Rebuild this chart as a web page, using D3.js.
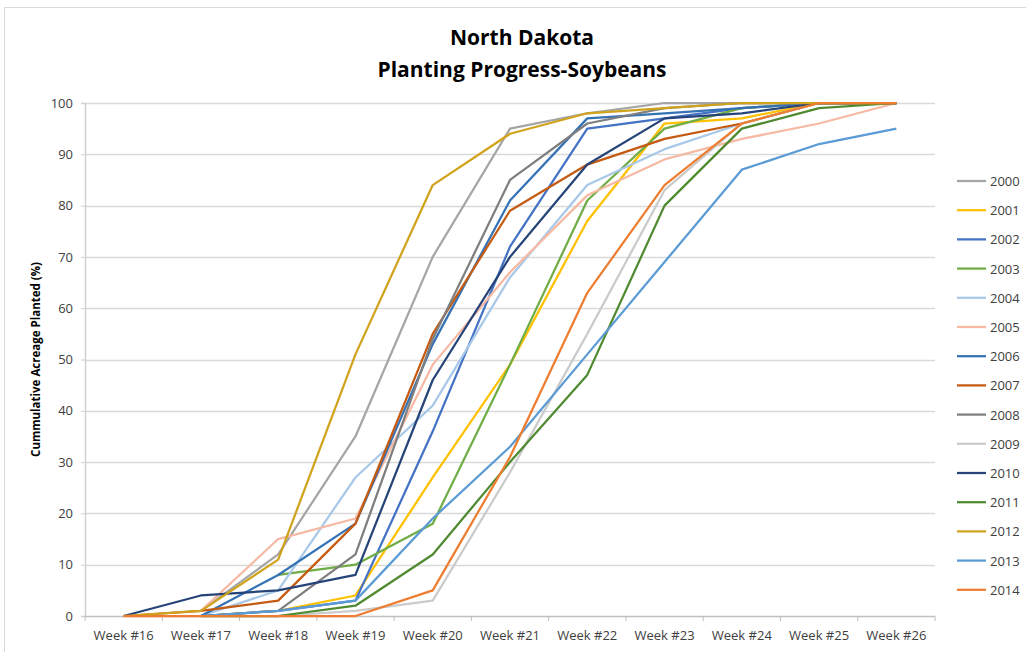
<!DOCTYPE html>
<html>
<head>
<meta charset="utf-8">
<script src="https://cdn.jsdelivr.net/npm/d3@7"></script>
<style>
  html, body { margin: 0; padding: 0; background: #fff; }
  svg { display: block; }
  text { font-family: "Open Sans", "Noto Sans", sans-serif; fill: #404040; }
</style>
</head>
<body>
<svg id="chart" width="1026" height="652"></svg>
<script>
// Weekly categories on the x axis
const weeks = ["Week #16", "Week #17", "Week #18", "Week #19", "Week #20", "Week #21",
               "Week #22", "Week #23", "Week #24", "Week #25", "Week #26"];

// Years shown in the legend
const years = ["2000", "2001", "2002", "2003", "2004", "2005", "2006", "2007",
               "2008", "2009", "2010", "2011", "2012", "2013", "2014"];

// Cumulative percent planted per week (null = not reported)
const y2000 = [null, 1, 12, 35, 70, 95, 98, 100, 100, 100, 100];
const y2001 = [null, 0, 1, 4, 27, 49, 77, 96, 97, 100, 100];
const y2002 = [null, 0, 1, 3, 36, 72, 95, 97, 99, 100, 100];
const y2003 = [null, null, 8, 10, 18, 49, 81, 95, 99, 100, 100];
const y2004 = [null, 0, 5, 27, 41, 66, 84, 91, 96, 100, 100];
const y2005 = [null, 1, 15, 19, 49, 67, 82, 89, 93, 96, 100];
const y2006 = [null, 0, 8, 18, 53, 81, 97, 98, 99, 100, 100];
const y2007 = [0, 1, 3, 18, 55, 79, 88, 93, 96, 100, 100];
const y2008 = [null, 0, 1, 12, 54, 85, 96, 99, 100, 100, 100];
const y2009 = [null, null, 0, 1, 3, 28, 55, 83, 96, 100, 100];
const y2010 = [0, 4, 5, 8, 46, 70, 88, 97, 98, 100, 100];
const y2011 = [null, 0, 0, 2, 12, 30, 47, 80, 95, 99, 100];
const y2012 = [0, 1, 11, 51, 84, 94, 98, 99, 100, 100, 100];
const y2013 = [null, 0, 1, 3, 19, 33, 51, 69, 87, 92, 95];
const y2014 = [0, 0, 0, 0, 5, 31, 63, 84, 96, 100, 100];

const seriesValues = [y2000, y2001, y2002, y2003, y2004, y2005, y2006, y2007,
                      y2008, y2009, y2010, y2011, y2012, y2013, y2014];

const yTicks = [0, 10, 20, 30, 40, 50, 60, 70, 80, 90, 100];

const colors = ["#a5a5a5", "#ffc000", "#4472c4", "#70ad47", "#a9c8e8", "#f6b9a4",
                "#3472b5", "#c55a11", "#7f7f7f", "#cbcbcb", "#264478", "#4f8a30",
                "#d0a31d", "#5b9bd5", "#ed7d31"];

const svg = d3.select("#chart");
const W = 1026, H = 652;

// Outer chart frame
svg.append("rect")
  .attr("x", 4.5).attr("y", 7.5)
  .attr("width", W + 10).attr("height", H + 10)
  .attr("fill", "none").attr("stroke", "#d9d9d9");

const plot = { left: 85, right: 935, top: 103, bottom: 616 };

const x = d3.scaleBand().domain(weeks).range([plot.left, plot.right]);
const y = d3.scaleLinear().domain([0, 100]).range([plot.bottom, plot.top]);

// Title
svg.append("text")
  .attr("x", 522).attr("y", 45)
  .attr("text-anchor", "middle")
  .style("font-size", "21px").style("font-weight", "bold")
  .style("fill", "#000")
  .text("North Dakota");
svg.append("text")
  .attr("x", 522).attr("y", 77)
  .attr("text-anchor", "middle")
  .style("font-size", "21px").style("font-weight", "bold")
  .style("fill", "#000")
  .text("Planting Progress-Soybeans");

// Horizontal gridlines
svg.append("g")
  .selectAll("line")
  .data(yTicks.filter(d => d > 0))
  .join("line")
  .attr("x1", plot.left).attr("x2", plot.right)
  .attr("y1", d => Math.round(y(d)) + 0.5).attr("y2", d => Math.round(y(d)) + 0.5)
  .attr("stroke", "#d9d9d9").attr("stroke-width", 1.5);

// Y axis
const yAxis = svg.append("g")
  .attr("transform", `translate(${plot.left},0)`)
  .call(d3.axisLeft(y).tickValues(yTicks).tickSize(4).tickPadding(8));
yAxis.select(".domain").attr("stroke", "#d0d0d0").attr("stroke-width", 1.5);
yAxis.selectAll(".tick line").attr("stroke", "#d0d0d0");
yAxis.selectAll("text")
  .style("font-size", "13px").style("fill", "#404040")
  .style("font-family", "'Open Sans', sans-serif");

// Y axis title
svg.append("text")
  .attr("transform", `translate(40,${(plot.top + plot.bottom) / 2}) rotate(-90)`)
  .attr("text-anchor", "middle")
  .style("font-size", "11.5px").style("font-weight", "bold")
  .style("fill", "#000")
  .text("Cummulative Acreage Planted (%)");

// X axis with ticks between categories
const xAxisG = svg.append("g")
  .attr("transform", `translate(0,${plot.bottom})`);
xAxisG.append("line")
  .attr("x1", plot.left).attr("x2", plot.right)
  .attr("y1", 0.5).attr("y2", 0.5)
  .attr("stroke", "#bfbfbf").attr("stroke-width", 1.5);
xAxisG.selectAll("line.tk")
  .data(weeks.concat(["end"]))
  .join("line")
  .attr("class", "tk")
  .attr("x1", (d, i) => plot.left + i * x.step())
  .attr("x2", (d, i) => plot.left + i * x.step())
  .attr("y1", 0).attr("y2", 5)
  .attr("stroke", "#bfbfbf");
xAxisG.selectAll("text")
  .data(weeks)
  .join("text")
  .attr("x", d => x(d) + x.bandwidth() / 2)
  .attr("y", 24)
  .attr("text-anchor", "middle")
  .style("font-size", "13px").style("fill", "#404040")
  .text(d => d);

// Series lines
const line = d3.line()
  .defined(d => d.v !== null)
  .x(d => x(d.w) + x.bandwidth() / 2)
  .y(d => y(d.v));

const series = years.map((yr, i) => ({
  year: yr,
  color: colors[i],
  pts: weeks.map((w, j) => ({ w, v: seriesValues[i][j] }))
}));

svg.append("g")
  .selectAll("path")
  .data(series)
  .join("path")
  .attr("d", d => line(d.pts))
  .attr("fill", "none")
  .attr("stroke", d => d.color)
  .attr("stroke-width", 2.25)
  .attr("stroke-linejoin", "round");

// Legend
const legend = svg.append("g");
const lg = legend.selectAll("g")
  .data(series)
  .join("g")
  .attr("transform", (d, i) => `translate(957,${181 + i * 29.2})`);
lg.append("line")
  .attr("x1", 0).attr("x2", 29)
  .attr("stroke", d => d.color).attr("stroke-width", 2.25);
lg.append("text")
  .attr("x", 33).attr("y", 5)
  .style("font-size", "13px").style("fill", "#404040")
  .text(d => d.year);
</script>
</body>
</html>
